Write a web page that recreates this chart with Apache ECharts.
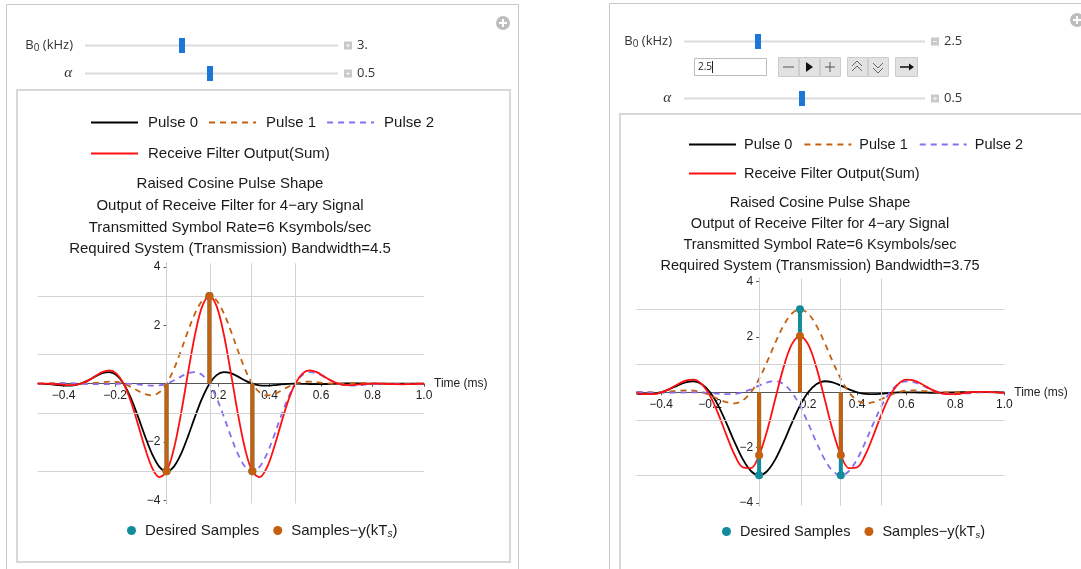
<!DOCTYPE html>
<html><head><meta charset="utf-8">
<script src="https://cdn.jsdelivr.net/npm/echarts@6/dist/echarts.min.js"></script>
<style>html,body{margin:0;padding:0;background:#fff}#c{width:1081px;height:569px}</style>
</head><body><div id="c"></div>
<script>
// ---------- data ----------
const timeLeft = [-0.5,-0.4722,-0.4444,-0.4167,-0.3889,-0.3611,-0.3333,-0.3056,-0.2778,-0.25,-0.2222,-0.1944,-0.1667,-0.1389,-0.1111,-0.0833,-0.0556,-0.0278,0,0.0278,0.0556,0.0833,0.1111,0.1389,0.1667,0.1944,0.2222,0.25,0.2778,0.3056,0.3333,0.3611,0.3889,0.4167,0.4444,0.4722,0.5,0.5278,0.5556,0.5833,0.6111,0.6389,0.6667,0.6944,0.7222,0.75,0.7778,0.8056,0.8333,0.8611,0.8889,0.9167,0.9444,0.9722,1.0];
const pulse0Left = [0,-0.006,-0.025,-0.051,-0.069,-0.058,0,0.107,0.242,0.360,0.399,0.293,0,-0.485,-1.117,-1.801,-2.417,-2.846,-3,-2.846,-2.417,-1.801,-1.117,-0.485,0,0.293,0.399,0.360,0.242,0.107,0,-0.058,-0.069,-0.051,-0.025,-0.006,0,-0.004,-0.012,-0.017,-0.016,-0.009,0,0.007,0.009,0.008,0.004,0.001,0,0.001,0.003,0.004,0.004,0.002,0];
const pulse1Left = [0,0.009,0.016,0.017,0.012,0.004,0,0.006,0.025,0.051,0.069,0.058,0,-0.107,-0.242,-0.360,-0.399,-0.293,0,0.485,1.117,1.801,2.417,2.846,3,2.846,2.417,1.801,1.117,0.485,0,-0.293,-0.399,-0.360,-0.242,-0.107,0,0.058,0.069,0.051,0.025,0.006,0,0.004,0.012,0.017,0.016,0.009,0,-0.007,-0.009,-0.008,-0.004,-0.001,0];
const pulse2Left = [0,0.001,0.004,0.008,0.009,0.007,0,-0.009,-0.016,-0.017,-0.012,-0.004,0,-0.006,-0.025,-0.051,-0.069,-0.058,0,0.107,0.242,0.360,0.399,0.293,0,-0.485,-1.117,-1.801,-2.417,-2.846,-3,-2.846,-2.417,-1.801,-1.117,-0.485,0,0.293,0.399,0.360,0.242,0.107,0,-0.058,-0.069,-0.051,-0.025,-0.006,0,-0.004,-0.012,-0.017,-0.016,-0.009,0];
const sumLeft = [0,0.004,-0.005,-0.026,-0.048,-0.047,0,0.104,0.251,0.394,0.456,0.347,0,-0.598,-1.384,-2.212,-2.885,-3.197,-3,-2.254,-1.058,0.360,1.699,2.654,3,2.654,1.699,0.360,-1.058,-2.254,-3,-3.197,-2.885,-2.212,-1.384,-0.598,0,0.347,0.456,0.394,0.251,0.104,0,-0.047,-0.048,-0.026,-0.005,0.004,0,-0.010,-0.018,-0.021,-0.016,-0.008,0];

const timeRight = [-0.5,-0.4667,-0.4333,-0.4,-0.3667,-0.3333,-0.3,-0.2667,-0.2333,-0.2,-0.1667,-0.1333,-0.1,-0.0667,-0.0333,0,0.0333,0.0667,0.1,0.1333,0.1667,0.2,0.2333,0.2667,0.3,0.3333,0.3667,0.4,0.4333,0.4667,0.5,0.5333,0.5667,0.6,0.6333,0.6667,0.7,0.7333,0.7667,0.8,0.8333,0.8667,0.9,0.9333,0.9667,1.0];
const pulse0Right = [-0.051,-0.069,-0.058,0,0.107,0.242,0.360,0.399,0.293,0,-0.485,-1.117,-1.801,-2.417,-2.846,-3,-2.846,-2.417,-1.801,-1.117,-0.485,0,0.293,0.399,0.360,0.242,0.107,0,-0.058,-0.069,-0.051,-0.025,-0.006,0,-0.004,-0.012,-0.017,-0.016,-0.009,0,0.007,0.009,0.008,0.004,0.001,0];
const pulse1Right = [0.012,0.004,0,0.006,0.025,0.051,0.069,0.058,0,-0.107,-0.242,-0.360,-0.399,-0.293,0,0.485,1.117,1.801,2.417,2.846,3,2.846,2.417,1.801,1.117,0.485,0,-0.293,-0.399,-0.360,-0.242,-0.107,0,0.058,0.069,0.051,0.025,0.006,0,0.004,0.012,0.017,0.016,0.009,0,-0.007];
const pulse2Right = [0.007,0,-0.009,-0.016,-0.017,-0.012,-0.004,0,-0.006,-0.025,-0.051,-0.069,-0.058,0,0.107,0.242,0.360,0.399,0.293,0,-0.485,-1.117,-1.801,-2.417,-2.846,-3,-2.846,-2.417,-1.801,-1.117,-0.485,0,0.293,0.399,0.360,0.242,0.107,0,-0.058,-0.069,-0.051,-0.025,-0.006,0,-0.004,-0.012];
const sumRight = [-0.032,-0.065,-0.067,-0.010,0.115,0.281,0.425,0.457,0.287,-0.132,-0.778,-1.546,-2.258,-2.710,-2.739,-2.273,-1.369,-0.217,0.909,1.729,2.030,1.729,0.909,-0.217,-1.369,-2.273,-2.739,-2.710,-2.258,-1.546,-0.778,-0.132,0.287,0.457,0.425,0.281,0.115,-0.010,-0.067,-0.065,-0.032,0.001,0.018,0.013,-0.003,-0.019];

const sampleTimes = [0, 0.16667, 0.33333];
const desiredLeft = [-3, 3, -3];
const samplesLeft = [-3, 3, -3];
const desiredRight = [-3, 3, -3];
const samplesRight = [-2.273, 2.03, -2.273];

const xTickLabels = [-0.4, -0.2, 0.2, 0.4, 0.6, 0.8, 1.0];
const yTickLabels = [-4, -2, 2, 4];
const gridTimes = [0, 0.16667, 0.33333, 0.5];
const gridLevels = [-3, -1, 1, 3];

const titleLeft = ['Raised Cosine Pulse Shape','Output of Receive Filter for 4\u2212ary Signal','Transmitted Symbol Rate=6 Ksymbols/sec','Required System (Transmission) Bandwidth=4.5'];
const titleRight = ['Raised Cosine Pulse Shape','Output of Receive Filter for 4\u2212ary Signal','Transmitted Symbol Rate=6 Ksymbols/sec','Required System (Transmission) Bandwidth=3.75'];

// ---------- styling ----------
const FONT = '"Liberation Sans", Arial, sans-serif';
const UIFONT = '"Open Sans", "Noto Sans", sans-serif';
const C_BLACK = '#000000', C_ORANGE = '#c5600f', C_PURPLE = '#8a6cf0', C_RED = '#ff1010', C_TEAL = '#128c9b';
const NAME_S = 'Samples\u2212y(kTs)';

const chart = echarts.init(document.getElementById('c'), null, {renderer: 'canvas'});

const pts = (t, v) => t.map((x, i) => [x, v[i]]);
const fmtX = v => (v < 0 ? '\u2212' : '') + Math.abs(v).toFixed(1);
const fmtY = v => (v < 0 ? '\u2212' : '') + Math.abs(v);

function stem(color) {
  return function (params, api) {
    const a = api.coord([api.value(0), 0]);
    const b = api.coord([api.value(0), api.value(1)]);
    return {type: 'line', shape: {x1: a[0], y1: a[1], x2: b[0], y2: b[1]}, style: {stroke: color, lineWidth: 4}};
  };
}

// grid boxes; axes are shifted (offset) so that they cross at the origin
const panels = [
  {t: timeLeft, p0: pulse0Left, p1: pulse1Left, p2: pulse2Left, s: sumLeft, d: desiredLeft, y: samplesLeft,
   grid: {left: 37.8, top: 263.3, width: 386.2, height: 240.2}},
  {t: timeRight, p0: pulse0Right, p1: pulse1Right, p2: pulse2Right, s: sumRight, d: desiredRight, y: samplesRight,
   grid: {left: 636.5, top: 278.3, width: 367.8, height: 227.4}}
];
const X_MIN = -0.5, X_MAX = 1.0, Y_MIN = -4.1, Y_MAX = 4.12;
const AXIS_C = '#555555';

const grids = [], xAxes = [], yAxes = [], series = [];
panels.forEach((P, k) => {
  const g = P.grid;
  const xOff = -(0 - X_MIN) / (X_MAX - X_MIN) * g.width;      // y axis at t = 0
  const yOff = -(0 - Y_MIN) / (Y_MAX - Y_MIN) * g.height;     // x axis at value 0
  grids.push(Object.assign({outerBoundsMode: 'none', containLabel: false}, g));
  xAxes.push({
    type: 'value', gridIndex: k, min: X_MIN, max: X_MAX, position: 'bottom', offset: yOff,
    splitLine: {show: false},
    axisLine: {onZero: false, lineStyle: {color: AXIS_C, width: 1}},
    axisTick: {show: true, customValues: xTickLabels, length: 3, lineStyle: {color: AXIS_C}},
    axisLabel: {customValues: xTickLabels, formatter: fmtX, color: '#222', fontSize: 12, fontFamily: FONT, margin: 6},
    name: 'Time (ms)', nameLocation: 'end', nameGap: 10,
    nameTextStyle: {color: '#222', fontSize: 12, fontFamily: FONT, align: 'left', verticalAlign: 'middle'}
  });
  yAxes.push({
    type: 'value', gridIndex: k, min: Y_MIN, max: Y_MAX, position: 'left', offset: xOff,
    splitLine: {show: false},
    axisLine: {onZero: false, lineStyle: {color: AXIS_C, width: 1}},
    axisTick: {show: true, customValues: yTickLabels, length: 3, lineStyle: {color: AXIS_C}},
    axisLabel: {customValues: yTickLabels, formatter: fmtY, color: '#222', fontSize: 12, fontFamily: FONT, margin: 6}
  });
  series.push({
    type: 'line', xAxisIndex: k, yAxisIndex: k, data: [], silent: true, z: 1, symbol: 'none',
    markLine: {
      silent: true, symbol: ['none', 'none'], label: {show: false}, animation: false,
      lineStyle: {color: '#d2d2d2', width: 1, type: 'solid'}, emphasis: {disabled: true},
      data: gridTimes.map(v => ({xAxis: v})).concat(gridLevels.map(v => ({yAxis: v})))
    }
  });
  const common = {type: 'line', xAxisIndex: k, yAxisIndex: k, symbol: 'none', showSymbol: false, smooth: 0.35, silent: true};
  series.push(Object.assign({}, common, {name: 'Pulse 0', data: pts(P.t, P.p0), z: 3, lineStyle: {color: C_BLACK, width: 1.8}, itemStyle: {color: C_BLACK}}));
  series.push(Object.assign({}, common, {name: 'Pulse 1', data: pts(P.t, P.p1), z: 3, lineStyle: {color: C_ORANGE, width: 1.8, type: [6, 5]}, itemStyle: {color: C_ORANGE}}));
  series.push(Object.assign({}, common, {name: 'Pulse 2', data: pts(P.t, P.p2), z: 3, lineStyle: {color: C_PURPLE, width: 1.8, type: [6, 5]}, itemStyle: {color: C_PURPLE}}));
  series.push(Object.assign({}, common, {name: 'Receive Filter Output(Sum)', data: pts(P.t, P.s), z: 4, lineStyle: {color: C_RED, width: 1.8}, itemStyle: {color: C_RED}}));
  series.push({type: 'custom', xAxisIndex: k, yAxisIndex: k, silent: true, z: 5, encode: {x: 0, y: 1},
    data: pts(sampleTimes, P.d), renderItem: stem(C_TEAL)});
  series.push({type: 'scatter', name: 'Desired Samples', xAxisIndex: k, yAxisIndex: k, silent: true, z: 6,
    data: pts(sampleTimes, P.d), symbol: 'circle', symbolSize: 8, itemStyle: {color: C_TEAL, opacity: 1}});
  series.push({type: 'custom', xAxisIndex: k, yAxisIndex: k, silent: true, z: 7, encode: {x: 0, y: 1},
    data: pts(sampleTimes, P.y), renderItem: stem(C_ORANGE)});
  series.push({type: 'scatter', name: NAME_S, xAxisIndex: k, yAxisIndex: k, silent: true, z: 8,
    data: pts(sampleTimes, P.y), symbol: 'circle', symbolSize: 8, itemStyle: {color: C_ORANGE, opacity: 1}});
});

// ---------- legends ----------
function legText(fs, padL) {
  return {color: '#1a1a1a', fontSize: fs, fontFamily: FONT, padding: [0, 0, 0, padL],
    rich: {sub: {fontSize: fs - 5, fontStyle: 'italic', fontFamily: FONT, color: '#1a1a1a', padding: [7, 0, 0, 0]}}};
}
function lineLegend(data, left, top, fs, padL, gap) {
  return {data: data, left: left, top: top, orient: 'horizontal', itemWidth: 47, itemHeight: 14, itemGap: gap,
    padding: 0, selectedMode: false, textStyle: legText(fs, padL), itemStyle: {opacity: 0}};
}
function dotLegend(left, top, fs) {
  return {data: ['Desired Samples', NAME_S], left: left, top: top, orient: 'horizontal', itemWidth: 9, itemHeight: 9,
    itemGap: 14, padding: 0, selectedMode: false, textStyle: legText(fs, 4), itemStyle: {opacity: 1},
    formatter: n => n === NAME_S ? 'Samples\u2212y(kT{sub|s})' : n};
}
const legends = [
  lineLegend(['Pulse 0', 'Pulse 1', 'Pulse 2'], 90, 115, 15, 5, 10),
  lineLegend(['Receive Filter Output(Sum)'], 90, 146, 15, 5, 10),
  dotLegend(127, 523, 15),
  lineLegend(['Pulse 0', 'Pulse 1', 'Pulse 2'], 688, 137, 14.5, 3, 11),
  lineLegend(['Receive Filter Output(Sum)'], 688, 166, 14.5, 3, 11),
  dotLegend(722, 524, 14.5)
];

// ---------- Manipulate frames & controls (decoration) ----------
const G = [];
const rect = (x, y, w, h, fill, stroke, lw, z) => G.push({type: 'rect', z: z || 0, silent: true,
  shape: {x: x, y: y, width: w, height: h, r: 0}, style: {fill: fill || 'none', stroke: stroke || null, lineWidth: lw || 1}});
const line = (x1, y1, x2, y2, col, lw) => G.push({type: 'line', z: 1, silent: true,
  shape: {x1: x1, y1: y1, x2: x2, y2: y2}, style: {stroke: col, lineWidth: lw || 1}});
const text = (s, x, y, opt) => G.push({type: 'text', z: 1, silent: true, x: x, y: y,
  style: Object.assign({text: s, fill: '#333', font: '12px ' + UIFONT, align: 'left', verticalAlign: 'middle'}, opt || {})});
const poly = (points, col, fill) => G.push({type: fill ? 'polygon' : 'polyline', z: 1, silent: true,
  shape: {points: points}, style: fill ? {fill: col} : {stroke: col, lineWidth: 1, fill: null}});
function plusIcon(cx, cy) {
  G.push({type: 'circle', z: 1, silent: true, shape: {cx: cx, cy: cy, r: 7}, style: {fill: '#bdbdbd'}});
  rect(cx - 4, cy - 1, 8, 2, '#fff', null, 0, 2);
  rect(cx - 1, cy - 4, 2, 8, '#fff', null, 0, 2);
}
function smallBox(x, y, minus) {
  rect(x, y, 8, 8, '#c9c9c9', null, 0, 1);
  rect(x + 2, y + 3.5, 4, 1, '#f4f4f4', null, 0, 2);
  if (!minus) rect(x + 3.5, y + 2, 1, 4, '#f4f4f4', null, 0, 2);
}
function slider(y, x1, x2, thumbX, val, alpha, minus) {
  if (alpha) text('\u03b1', x1 - 13, y, {align: 'right', font: 'italic 15px "Liberation Serif", serif'});
  else text('{a|B}{s|0}{a| (kHz)}', x1 - 12, y, {align: 'right',
    rich: {a: {fontSize: 13, fontFamily: UIFONT, fill: '#333'}, s: {fontSize: 10, fontFamily: UIFONT, fill: '#333', padding: [6, 0, 0, 0]}}});
  line(x1, y + 0.5, x2, y + 0.5, '#dcdcdc', 2);
  rect(thumbX, y - 7, 6, 15, '#1b78d6', null, 0, 2);
  smallBox(x2 + 6, y - 3.5, minus);
  text(val, x2 + 19, y, {font: '13px ' + UIFONT});
}
// left panel
rect(6.5, 4.5, 512, 600, '#fff', '#c8c8c8', 1, -1);
plusIcon(503, 23);
slider(45, 85, 338, 179, '3.', false, false);
slider(73, 85, 338, 207, '0.5', true, false);
rect(17, 90, 493, 472, null, '#d8d8d8', 2, 0);
titleLeft.forEach((s, i) => text(s, 230, 184 + i * 21.7, {align: 'center', font: '15px ' + FONT, fill: '#1a1a1a'}));
// right panel
rect(609.5, 3.5, 600, 600, '#fff', '#c8c8c8', 1, -1);
plusIcon(1077, 20);
slider(41, 684, 925, 755, '2.5', false, true);
rect(694.5, 58.5, 72, 17, '#fff', '#bdbdbd', 1, 1);
text('2.5', 698, 67, {font: '10px ' + UIFONT, fill: '#222'});
line(712.5, 61, 712.5, 73, '#222', 1);
[[778, 20], [799, 20], [820, 20], [847, 20], [868, 20], [895, 22]].forEach(b => rect(b[0] + 0.5, 57.5, b[1], 19, '#e2e2e2', '#cdcdcd', 1, 1));
line(783, 67, 794, 67, '#555', 1);
poly([[806, 62], [806, 72], [813, 67]], '#111', true);
line(825, 67, 835, 67, '#555', 1); line(830, 62, 830, 72, '#555', 1);
poly([[852, 66], [857, 61], [862, 66]], '#666'); poly([[852, 71], [857, 66], [862, 71]], '#666');
poly([[873, 63], [878, 68], [883, 63]], '#666'); poly([[873, 68], [878, 73], [883, 68]], '#666');
line(900, 67, 910, 67, '#111', 1.5); poly([[909, 63.5], [914, 67], [909, 70.5]], '#111', true);
slider(98, 684, 925, 799, '0.5', true, false);
rect(620, 114, 600, 600, null, '#d8d8d8', 2, 0);
titleRight.forEach((s, i) => text(s, 820, 203 + i * 21, {align: 'center', font: '14.5px ' + FONT, fill: '#1a1a1a'}));

chart.setOption({
  animation: false,
  backgroundColor: '#ffffff',
  textStyle: {fontFamily: FONT},
  grid: grids, xAxis: xAxes, yAxis: yAxes,
  legend: legends,
  graphic: {elements: G},
  series: series
});
</script></body></html>
